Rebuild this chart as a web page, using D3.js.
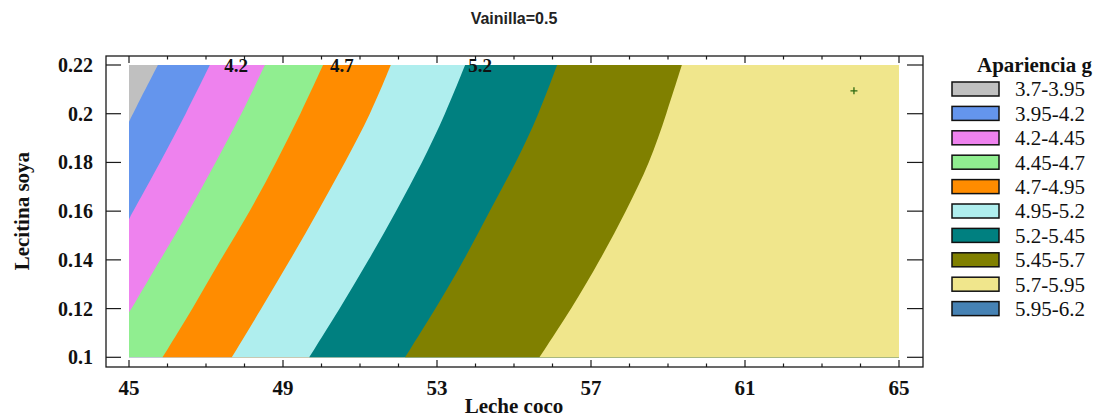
<!DOCTYPE html>
<html>
<head>
<meta charset="utf-8">
<script src="https://cdn.jsdelivr.net/npm/d3@7"></script>
<style>
  body { margin: 0; background: #fff; }
  svg { display: block; }
</style>
</head>
<body>
<div id="chart"></div>
<script>
// band ranges and colours (legend order)
var bandLabels = ["3.7-3.95", "3.95-4.2", "4.2-4.45", "4.45-4.7", "4.7-4.95",
                  "4.95-5.2", "5.2-5.45", "5.45-5.7", "5.7-5.95", "5.95-6.2"];
var bandColors = ["#c0c0c0", "#6495ed", "#ee82ee", "#90ee90", "#ff8c00",
                  "#afeeee", "#008080", "#808000", "#f0e68c", "#4682b4"];

// contour lines: [leche coco, lecitina soya]
var c395 = [[45.75, 0.22], [45.10, 0.20], [45.0, 0.1967]];
var c420 = [[47.10, 0.22], [46.48, 0.20], [45.81, 0.18], [45.11, 0.16], [45.0, 0.1567]];
var c445 = [[48.53, 0.22], [47.93, 0.20], [47.25, 0.18], [46.56, 0.16], [45.81, 0.14], [45.07, 0.12], [45.0, 0.1185]];
var c470 = [[50.04, 0.22], [49.46, 0.20], [48.82, 0.18], [48.15, 0.16], [47.37, 0.14], [46.66, 0.12], [45.87, 0.10]];
var c495 = [[51.80, 0.22], [51.28, 0.20], [50.61, 0.18], [49.91, 0.16], [49.19, 0.14], [48.44, 0.12], [47.67, 0.10]];
var c520 = [[53.73, 0.22], [53.22, 0.20], [52.62, 0.18], [51.94, 0.16], [51.23, 0.14], [50.48, 0.12], [49.68, 0.10]];
var c545 = [[56.12, 0.22], [55.65, 0.20], [55.06, 0.18], [54.36, 0.16], [53.71, 0.14], [52.97, 0.12], [52.17, 0.10]];
var c570 = [[59.36, 0.22], [58.96, 0.20], [58.53, 0.18], [57.91, 0.16], [57.24, 0.14], [56.50, 0.12], [55.66, 0.10]];
var contourLines = [c395, c420, c445, c470, c495, c520, c545, c570];

// labels written on the contours at the top edge
var contourLabels = [["4.2", 47.78], ["4.7", 50.53], ["5.2", 54.12]];

var xTicks = [45, 49, 53, 57, 61, 65];
var yTicks = [0.1, 0.12, 0.14, 0.16, 0.18, 0.2, 0.22];
var optimum = [63.83, 0.2094];

var W = 1104, H = 418;
var serif = "'Liberation Serif', 'Times New Roman', serif";

var svg = d3.select("#chart").append("svg")
  .attr("width", W)
  .attr("height", H);

var x = d3.scaleLinear().domain([45, 65]).range([129, 899]);
var y = d3.scaleLinear().domain([0.1, 0.22]).range([357.3, 65]);

// base band
svg.append("rect")
  .attr("x", x(45)).attr("y", y(0.22))
  .attr("width", x(65) - x(45))
  .attr("height", y(0.1) - y(0.22))
  .attr("fill", bandColors[0]);

var line = d3.line()
  .x(function(d) { return x(d[0]); })
  .y(function(d) { return y(d[1]); })
  .curve(d3.curveBasis);

// paint each area right of a contour with the next band colour
contourLines.forEach(function(pts, i) {
  var last = pts[pts.length - 1];
  var tail = [];
  if (last[1] > 0.1) tail.push([45, 0.1]);
  tail.push([65, 0.1], [65, 0.22]);
  var d = line(pts) + tail.map(function(p) {
    return "L" + x(p[0]) + "," + y(p[1]);
  }).join("") + "Z";
  svg.append("path")
    .attr("d", d)
    .attr("fill", bandColors[i + 1]);
});

// contour labels
svg.selectAll(".clab")
  .data(contourLabels)
  .enter().append("text")
  .attr("class", "clab")
  .attr("x", function(d) { return x(d[1]); })
  .attr("y", y(0.22) + 7)
  .attr("text-anchor", "middle")
  .attr("font-family", serif)
  .attr("font-weight", "bold")
  .attr("font-size", 19)
  .attr("fill", "#111")
  .text(function(d) { return d[0]; });

// optimum marker
svg.append("path")
  .attr("transform", "translate(" + x(optimum[0]) + "," + y(optimum[1]) + ")")
  .attr("d", "M-3.5,0H3.5M0,-3.5V3.5")
  .attr("stroke", "#2f6a12")
  .attr("stroke-width", 1.3)
  .attr("fill", "none");

// frame
var fx0 = 106, fx1 = 923, fy0 = 56, fy1 = 367;
svg.append("rect")
  .attr("x", fx0).attr("y", fy0)
  .attr("width", fx1 - fx0).attr("height", fy1 - fy0)
  .attr("fill", "none")
  .attr("stroke", "#1a1a1a")
  .attr("stroke-width", 1.3);

// x ticks, every unit, inward on bottom and top
var xAll = d3.range(45, 66, 1);
xAll.forEach(function(v) {
  var major = xTicks.indexOf(v) >= 0;
  var len = major ? 7 : 3.5;
  svg.append("line")
    .attr("x1", x(v)).attr("x2", x(v))
    .attr("y1", fy1).attr("y2", fy1 - len)
    .attr("stroke", "#1a1a1a").attr("stroke-width", 1.2);
  svg.append("line")
    .attr("x1", x(v)).attr("x2", x(v))
    .attr("y1", fy0).attr("y2", fy0 + len)
    .attr("stroke", "#1a1a1a").attr("stroke-width", 1.2);
});

svg.selectAll(".xlab")
  .data(xTicks)
  .enter().append("text")
  .attr("class", "xlab")
  .attr("x", function(d) { return x(d); })
  .attr("y", 395)
  .attr("text-anchor", "middle")
  .attr("font-family", serif)
  .attr("font-weight", "bold")
  .attr("font-size", 21)
  .attr("fill", "#111")
  .text(function(d) { return d; });

// y ticks, inward on left and right
yTicks.forEach(function(v) {
  svg.append("line")
    .attr("x1", fx0).attr("x2", fx0 + 15)
    .attr("y1", y(v)).attr("y2", y(v))
    .attr("stroke", "#1a1a1a").attr("stroke-width", 1.2);
  svg.append("line")
    .attr("x1", fx1).attr("x2", fx1 - 16)
    .attr("y1", y(v)).attr("y2", y(v))
    .attr("stroke", "#1a1a1a").attr("stroke-width", 1.2);
});

svg.selectAll(".ylab")
  .data(yTicks)
  .enter().append("text")
  .attr("class", "ylab")
  .attr("x", 93)
  .attr("y", function(d) { return y(d); })
  .attr("dy", "0.35em")
  .attr("text-anchor", "end")
  .attr("font-family", serif)
  .attr("font-weight", "bold")
  .attr("font-size", 20)
  .attr("fill", "#111")
  .text(function(d) { return d3.format("")(+d.toFixed(2)); });

// axis titles
svg.append("text")
  .attr("x", (x(45) + x(65)) / 2)
  .attr("y", 413)
  .attr("text-anchor", "middle")
  .attr("font-family", serif)
  .attr("font-weight", "bold")
  .attr("font-size", 21)
  .attr("fill", "#111")
  .text("Leche coco");

svg.append("text")
  .attr("transform", "translate(29," + (y(0.1) + y(0.22)) / 2 + ") rotate(-90)")
  .attr("text-anchor", "middle")
  .attr("font-family", serif)
  .attr("font-weight", "bold")
  .attr("font-size", 21)
  .attr("fill", "#111")
  .text("Lecitina soya");

// title
svg.append("text")
  .attr("x", (x(45) + x(65)) / 2)
  .attr("y", 24)
  .attr("text-anchor", "middle")
  .attr("font-family", "'Liberation Sans', Arial, sans-serif")
  .attr("font-weight", "bold")
  .attr("font-size", 16)
  .attr("fill", "#222")
  .text("Vainilla=0.5");

// legend
var lg = svg.append("g").attr("transform", "translate(952,82)");
lg.append("text")
  .attr("x", 25).attr("y", -10)
  .attr("font-family", serif)
  .attr("font-weight", "bold")
  .attr("font-size", 21)
  .attr("fill", "#111")
  .text("Apariencia g");

var rows = lg.selectAll(".row")
  .data(bandLabels)
  .enter().append("g")
  .attr("class", "row")
  .attr("transform", function(d, i) { return "translate(0," + i * 24.4 + ")"; });

rows.append("rect")
  .attr("width", 47).attr("height", 14)
  .attr("fill", function(d, i) { return bandColors[i]; })
  .attr("stroke", "#111")
  .attr("stroke-width", 1.5);

rows.append("text")
  .attr("x", 63).attr("y", 7)
  .attr("dy", "0.35em")
  .attr("font-family", serif)
  .attr("font-size", 21)
  .attr("fill", "#111")
  .text(function(d) { return d; });
</script>
</body>
</html>
